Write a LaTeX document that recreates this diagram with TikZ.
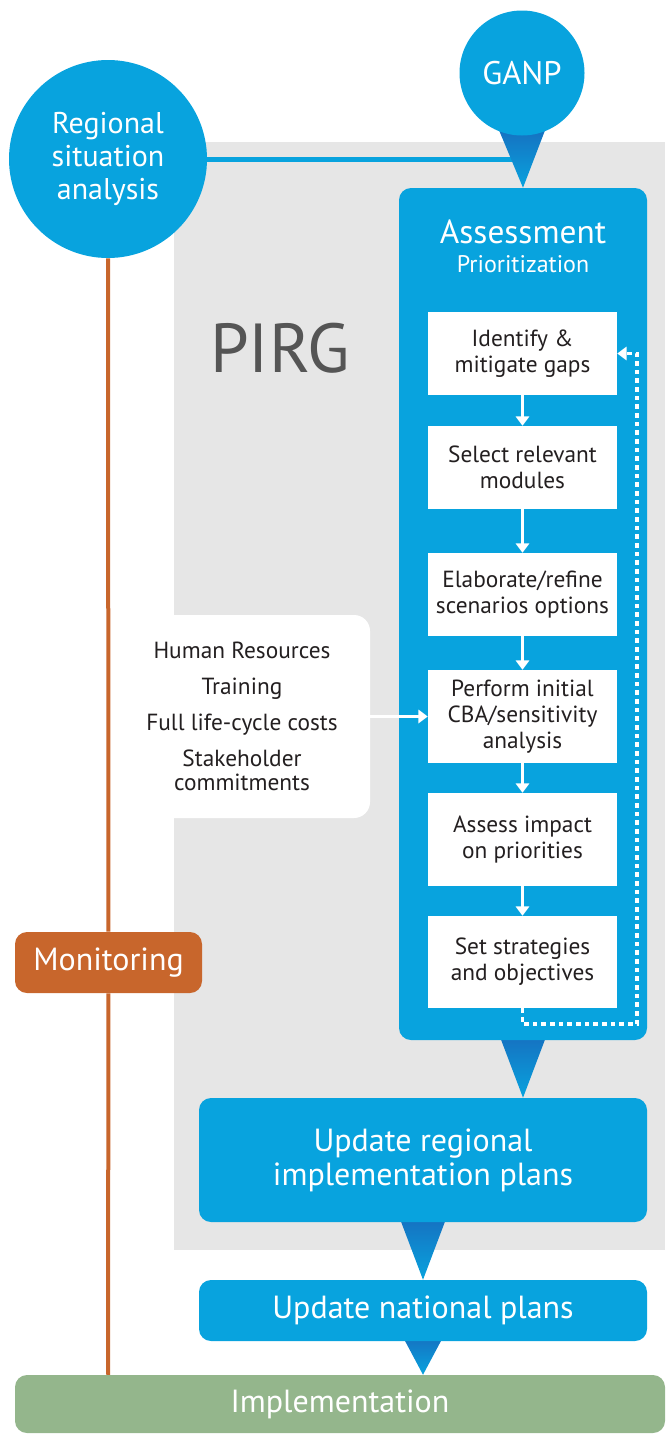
\documentclass[tikz,border=0pt]{standalone}
\usepackage{fontspec}
\setmainfont{PT Sans}
\usetikzlibrary{calc,arrows.meta}
\pgfdeclarelayer{back}
\pgfdeclarelayer{mid}
\pgfsetlayers{back,mid,main}
\newlength\pxu
\setlength\pxu{0.75pt}
\definecolor{ibl}{RGB}{8,163,222}
\definecolor{ibld}{RGB}{22,112,192}
\definecolor{igr}{RGB}{230,230,230}
\definecolor{ior}{RGB}{200,102,44}
\definecolor{ign}{RGB}{148,182,140}
\definecolor{itx}{RGB}{35,31,32}
\definecolor{ipg}{RGB}{85,85,85}
\tikzset{
  bluebox/.style={fill=ibl, rounded corners=12\pxu, inner sep=0pt, text=white, align=center},
  stepbox/.style={fill=white, inner sep=0pt, minimum width=189\pxu, text=itx, align=center,
    font=\fontsize{17.5}{19.5}\selectfont},
  stepflow/.style={draw=white, line width=2.3pt, -{Triangle[width=10pt,length=7pt]}},
  pointer/.style={top color=ibld, bottom color=ibl, draw=none},
  bigtext/.style={font=\fontsize{24}{25.5}\selectfont},
}
\begin{document}
\begin{tikzpicture}[x=0.75pt,y=-0.75pt]
\useasboundingbox (0,0) rectangle (665,1435);
% gray PIRG region
\begin{pgfonlayer}{back}
\fill[igr] (174,142) rectangle (665,1250);
\node[fill=white, rounded corners=16\pxu, minimum width=256\pxu, minimum height=203\pxu,
  inner sep=0pt, text=itx, align=center, font=\fontsize{17.5}{18.5}\selectfont] (inputs) at (242,716.5)
  {Human Resources\\[8.5pt]Training\\[8.5pt]Full life-cycle costs\\[8.5pt]Stakeholder\\commitments};
\end{pgfonlayer}
\node[text=ipg, font=\fontsize{52}{52}\selectfont, inner sep=0pt] (pirg) at (280,348) {PIRG};
% circles
\node[circle, fill=ibl, minimum size=198\pxu, inner sep=0pt, text=white, align=center,
  font=\fontsize{22.5}{24.75}\selectfont] (rsa) at (108,159) {Regional\\situation\\analysis};
\node[circle, fill=ibl, minimum size=125\pxu, inner sep=0pt, text=white,
  font=\fontsize{24.5}{24.5}\selectfont] (ganp) at (522,73) {GANP};
% assessment
\node[bluebox, minimum width=248\pxu, minimum height=852\pxu] (assess) at (523,614) {};
\node[text=white, align=center, inner sep=0pt, font=\fontsize{25}{22}\selectfont] (assesslbl) at (523,246)
  {Assessment\\{\fontsize{18}{18}\selectfont Prioritization}};
\node[stepbox, minimum height=83\pxu] (s1) at (522.5,353.5) {Identify \&\\mitigate gaps};
\node[stepbox, minimum height=83\pxu] (s2) at (522.5,467.5) {Select relevant\\modules};
\node[stepbox, minimum height=83\pxu] (s3) at (522.5,594.5) {Elaborate/refine\\scenarios options};
\node[stepbox, minimum height=93\pxu] (s4) at (522.5,716.5) {Perform initial\\CBA/sensitivity\\analysis};
\node[stepbox, minimum height=93\pxu] (s5) at (522.5,839.5) {Assess impact\\on priorities};
\node[stepbox, minimum height=92\pxu] (s6) at (522.5,962) {Set strategies\\and objectives};
% lower boxes
\node[bluebox, bigtext, minimum width=448\pxu, minimum height=124\pxu] (upd) at (423,1160)
  {Update regional\\implementation plans};
\node[bluebox, bigtext, minimum width=448\pxu, minimum height=61\pxu] (nat) at (423,1310.5)
  {Update national plans};
\node[fill=ign, rounded corners=12\pxu, inner sep=0pt, text=white, bigtext,
  minimum width=650\pxu, minimum height=58\pxu] (impl) at (340,1404) {Implementation};
\node[fill=ior, rounded corners=12\pxu, inner sep=0pt, text=white,
  font=\fontsize{24}{24}\selectfont, minimum width=187\pxu, minimum height=61\pxu] (mon) at (108.5,962.5) {Monitoring};
% connectors behind
\begin{pgfonlayer}{mid}
\draw[ibl, line width=3.75pt] (rsa.east) -- (rsa.east -| ganp.south);
\draw[ior, line width=3pt] (rsa.south) -- (mon) -- (rsa.south |- impl.north);
\shade[pointer] ($(ganp.south)+(-24,-8)$) -- ($(ganp.south)+(24,-8)$) -- (assess.north) -- cycle;
\shade[pointer] ($(assess.south)+(-24,-6)$) -- ($(assess.south)+(24,-6)$) -- (assess.south |- upd.north) -- cycle;
\shade[pointer] ($(upd.south)+(-24,-6)$) -- ($(upd.south)+(24,-6)$) -- (nat.north) -- cycle;
\shade[pointer] ($(nat.south)+(-21,-6)$) -- ($(nat.south)+(21,-6)$) -- (nat.south |- impl.north) -- cycle;
\end{pgfonlayer}
% step arrows
\draw[stepflow] (s1) -- (s2);
\draw[stepflow] (s2) -- (s3);
\draw[stepflow] (s3) -- (s4);
\draw[stepflow] (s4) -- (s5);
\draw[stepflow] (s5) -- (s6);
\draw[stepflow] (inputs) -- (s4);
\coordinate (fb) at (637,1024);
\draw[draw=white, line width=2.6pt, dash pattern=on 3.5pt off 3pt,
  -{Triangle[width=10pt,length=7pt]}] (s6.south) |- (fb) |- (s1.east);
\end{tikzpicture}
\end{document}
